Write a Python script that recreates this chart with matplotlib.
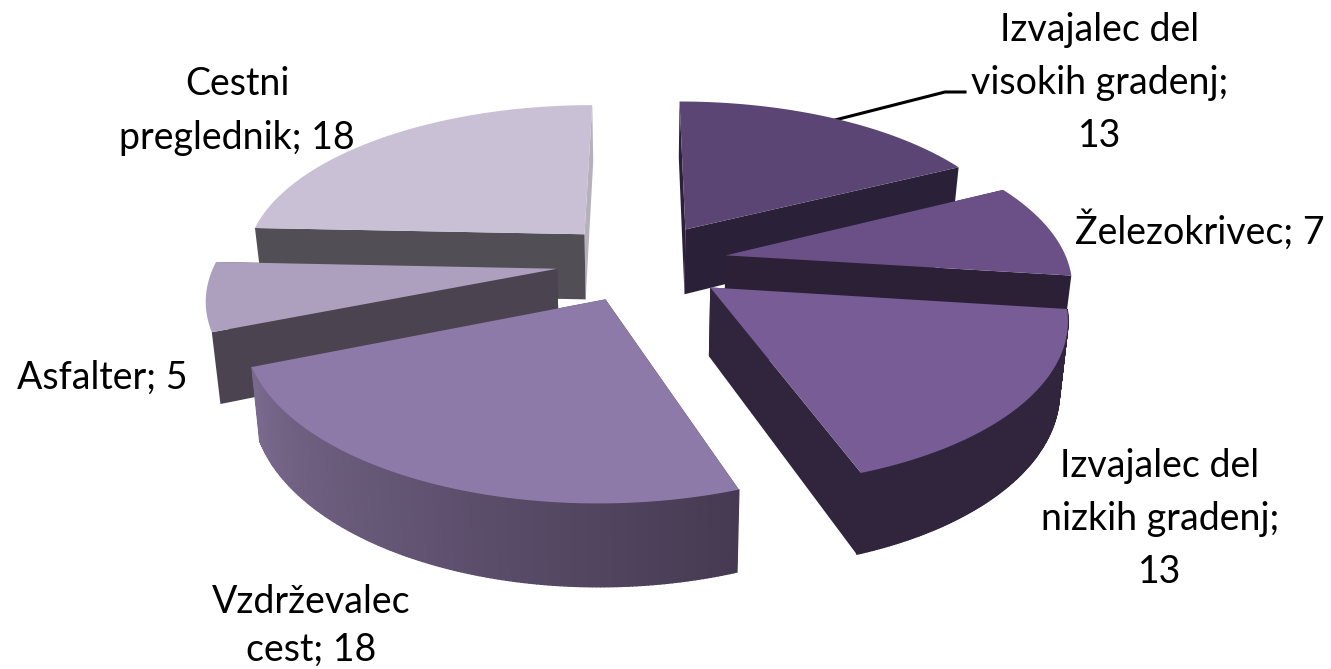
import numpy as np
import matplotlib
matplotlib.use('Agg')
import matplotlib.pyplot as plt
from matplotlib.colors import to_rgb

categories = ['Izvajalec del visokih gradenj', 'Železokrivec', 'Izvajalec del nizkih gradenj',
              'Vzdrževalec cest', 'Asfalter', 'Cestni preglednik']
values = [13, 7, 13, 18, 5, 18]
top_colors = ['#5a4574', '#6b5088', '#775c96', '#8e7aa8', '#ad9fbe', '#c9c0d6']
start_walls = ['#2a2138', '#2c2036', '#30253c', '#30253c', '#4c4350', '#524e55']
stop_walls = ['#2a2138', '#2c2036', '#30253c', '#4c4350', '#4c4350', '#b5b0ba']
rim_left = ['#2a2138', '#2c2036', '#30253c', '#7a6a8e', '#4c4350', '#524e55']
rim_right = ['#2a2138', '#2c2036', '#30253c', '#463a52', '#4c4350', '#524e55']
front_slices = [2, 3]

CX, CY = 642, 262
RX, RY = 342, 158
K = 0.16
EXPLODE = 0.25
DEPTH = 67
SHRINK = 0.02


def project(x, y, down=0.0):
    f = 1 + K * y
    sx = RX * x / f * (1 - SHRINK * down)
    return CX + sx, CY - RY * y / f + DEPTH * down / f


def mix(a, b, t):
    a, b = np.array(to_rgb(a)), np.array(to_rgb(b))
    return tuple(a + (b - a) * t)


def draw_slice(ax, i, start, stop):
    mid = np.radians((start + stop) / 2)
    ox, oy = EXPLODE * np.sin(mid), EXPLODE * np.cos(mid)
    th = np.radians(np.linspace(start, stop, 160))
    xs = ox + np.sin(th)
    ys = oy + np.cos(th)

    # dwie sciany ciecia
    walls = [(xs[-1], ys[-1], stop_walls[i]), (xs[0], ys[0], start_walls[i])]
    for x_end, y_end, col in walls:
        a = project(ox, oy)
        b = project(x_end, y_end)
        c = project(x_end, y_end, 1)
        d = project(ox, oy, 1)
        ax.fill([a[0], b[0], c[0], d[0]], [a[1], b[1], c[1], d[1]],
                color=col, lw=0, zorder=1)

    # zewnetrzny rob z gradientem
    if i in front_slices:
        for j in range(len(th) - 1):
            p1 = project(xs[j], ys[j])
            p2 = project(xs[j + 1], ys[j + 1])
            p3 = project(xs[j + 1], ys[j + 1], 1)
            p4 = project(xs[j], ys[j], 1)
            t = j / (len(th) - 2)
            ax.fill([p1[0], p2[0], p3[0], p4[0]], [p1[1], p2[1], p3[1], p4[1]],
                    color=mix(rim_right[i], rim_left[i], t), lw=1.0, zorder=1)

    px, py = project(np.r_[ox, xs], np.r_[oy, ys])
    ax.fill(px, py, color=top_colors[i], lw=0, zorder=1)


plt.rcParams['font.family'] = ['Lato', 'DejaVu Sans']
fig = plt.figure(figsize=(13.31, 6.69), dpi=100)
ax = fig.add_axes([0, 0, 1, 1])
ax.set_xlim(0, 1331)
ax.set_ylim(669, 0)
ax.axis('off')

angles = np.cumsum([0] + values) / sum(values) * 360
# rysowane od tylu do przodu
for i in [0, 5, 1, 4, 2, 3]:
    draw_slice(ax, i, angles[i], angles[i + 1])

ax.plot([835, 945, 965], [120, 92, 92], color='black', lw=2.2, zorder=0.5)

txt = dict(fontsize=27, color='black', ha='center', va='center', linespacing=1.6)
ax.text(1100, 83, 'Izvajalec del\nvisokih gradenj;\n13', **txt)
ax.text(1200, 230, 'Železokrivec; 7', **txt)
ax.text(1160, 519, 'Izvajalec del\nnizkih gradenj;\n13', **txt)
ax.text(311, 626, 'Vzdrževalec\ncest; 18', fontsize=27, color='black', ha='center', va='center', linespacing=1.4)
ax.text(102, 378, 'Asfalter; 5', **txt)
ax.text(237, 111, 'Cestni\npreglednik; 18', **txt)

fig.savefig('out.png', dpi=100)
